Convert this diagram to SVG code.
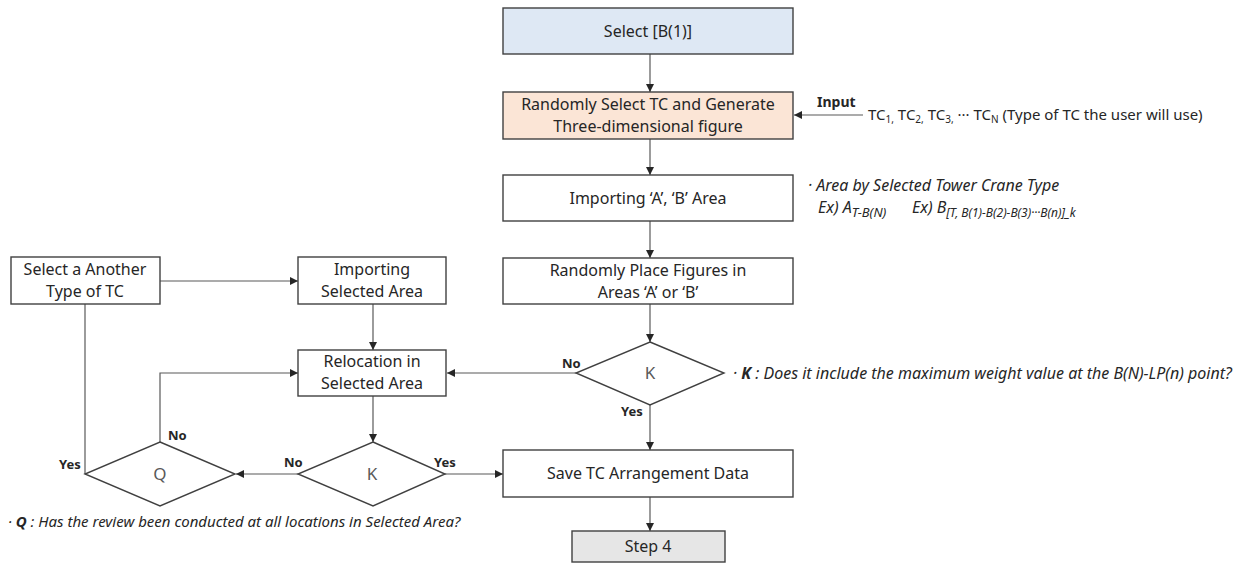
<svg xmlns="http://www.w3.org/2000/svg" width="1247" height="563" viewBox="0 0 1247 563">
<defs>
<marker id="ah" viewBox="0 0 10 10" refX="10" refY="5" markerWidth="8" markerHeight="8" markerUnits="userSpaceOnUse" orient="auto">
<path d="M0,0 L10,5 L0,10 z" fill="#262626"/>
</marker>
<style>
.box{stroke:#404040;stroke-width:1.4;fill:#fff}
.blue{fill:#dee8f4}
.orange{fill:#fbe5d6}
.gray{fill:#e6e6e6}
.t{font-family:"Noto Sans","Open Sans",sans-serif;font-size:16px;fill:#262626;text-anchor:middle}
.dk{font-family:"Noto Sans","Open Sans",sans-serif;font-size:17px;fill:#595959;text-anchor:middle}
.lab{font-family:"Noto Sans","Open Sans",sans-serif;font-size:13px;font-weight:bold;fill:#262626}
.note{font-family:"Noto Sans","Open Sans",sans-serif;font-size:16px;font-style:italic;fill:#262626}
.in{font-family:"Noto Sans","Open Sans",sans-serif;font-size:15px;fill:#262626}
.sub{font-size:10px}
.c{fill:none;stroke:#595959;stroke-width:1.2}
.ca{fill:none;stroke:#595959;stroke-width:1.2;marker-end:url(#ah)}
</style>
</defs>
<rect width="1247" height="563" fill="#fff"/>
<g id="connectors">
<line class="ca" x1="650" y1="54" x2="650" y2="92"/>
<line class="ca" x1="863" y1="115" x2="794" y2="115"/>
<line class="ca" x1="650" y1="139" x2="650" y2="175"/>
<line class="ca" x1="650" y1="221" x2="650" y2="258"/>
<line class="ca" x1="650" y1="304" x2="650" y2="342"/>
<line class="ca" x1="576" y1="373" x2="447" y2="373"/>
<line class="ca" x1="650" y1="405" x2="650" y2="450"/>
<line class="ca" x1="650" y1="497" x2="650" y2="531"/>
<line class="ca" x1="160" y1="281" x2="298" y2="281"/>
<line class="ca" x1="373" y1="304" x2="373" y2="350"/>
<line class="ca" x1="373" y1="396" x2="373" y2="442"/>
<line class="ca" x1="298" y1="474" x2="236" y2="474"/>
<line class="ca" x1="445" y1="474" x2="503" y2="474"/>
<polyline class="ca" points="160,442 160,373 298,373"/>
<polyline class="c" points="85,474 85,304"/>
</g>
<g id="n-select-b1">
<rect class="box blue" x="503" y="8" width="290" height="46"/>
<text class="t" x="648" y="37">Select [B(1)]</text>
</g>
<g id="n-random-tc">
<rect class="box orange" x="503" y="92" width="290" height="47"/>
<text class="t" x="648" y="110">Randomly Select TC and Generate</text>
<text class="t" x="648" y="132">Three-dimensional figure</text>
</g>
<g id="n-input">
<text class="lab" x="817" y="107" style="font-size:14px">Input</text>
<text class="in" x="868" y="120">TC<tspan class="sub" dy="3">1,</tspan><tspan dy="-3"> TC</tspan><tspan class="sub" dy="3">2,</tspan><tspan dy="-3"> TC</tspan><tspan class="sub" dy="3">3,</tspan><tspan dy="-3"> ··· TC</tspan><tspan class="sub" dy="3">N</tspan><tspan dy="-3"> (Type of TC the user will use)</tspan></text>
</g>
<g id="n-import-ab">
<rect class="box" x="503" y="175" width="290" height="46"/>
<text class="t" x="648" y="204">Importing ‘A’, ‘B’ Area</text>
</g>
<g id="n-area-note">
<text class="note" x="808" y="191">· Area by Selected Tower Crane Type</text>
<text class="note" x="818" y="213">Ex) A<tspan dy="4" style="font-size:13px">T-B(N)</tspan></text>
<text class="note" x="912" y="213">Ex) B<tspan dy="4" style="font-size:12px">[T, B(1)-B(2)-B(3)···B(n)]_k</tspan></text>
</g>
<g id="n-random-place">
<rect class="box" x="503" y="258" width="290" height="46"/>
<text class="t" x="648" y="276">Randomly Place Figures in</text>
<text class="t" x="648" y="298">Areas ‘A’ or ‘B’</text>
</g>
<g id="n-k1">
<polygon class="box" points="650,342 724,373 650,405 576,373"/>
<text class="dk" x="650" y="379">K</text>
<text class="lab" x="562" y="368">No</text>
<text class="lab" x="621" y="416">Yes</text>
</g>
<g id="n-k-note">
<text class="note" x="733" y="379">· <tspan font-weight="bold">K</tspan> : Does it include the maximum weight value at the B(N)-LP(n) point?</text>
</g>
<g id="n-select-another">
<rect class="box" x="11" y="257" width="149" height="47"/>
<text class="t" x="85" y="275">Select a Another</text>
<text class="t" x="85" y="297">Type of TC</text>
</g>
<g id="n-import-selected">
<rect class="box" x="298" y="257" width="148" height="47"/>
<text class="t" x="372" y="275">Importing</text>
<text class="t" x="372" y="297">Selected Area</text>
</g>
<g id="n-relocation">
<rect class="box" x="298" y="350" width="148" height="46"/>
<text class="t" x="372" y="367">Relocation in</text>
<text class="t" x="372" y="389">Selected Area</text>
</g>
<g id="n-k2">
<polygon class="box" points="373,442 445,474 373,506 298,474"/>
<text class="dk" x="372" y="480">K</text>
<text class="lab" x="284" y="467">No</text>
<text class="lab" x="434" y="467">Yes</text>
</g>
<g id="n-q">
<polygon class="box" points="160,442 235,474 160,506 85,474"/>
<text class="dk" x="160" y="480">Q</text>
<text class="lab" x="168" y="440">No</text>
<text class="lab" x="59" y="469">Yes</text>
</g>
<g id="n-q-note">
<text class="note" x="8" y="527" style="font-size:15px">· <tspan font-weight="bold">Q</tspan> : Has the review been conducted at all locations in Selected Area?</text>
</g>
<g id="n-save">
<rect class="box" x="503" y="450" width="290" height="47"/>
<text class="t" x="648" y="479">Save TC Arrangement Data</text>
</g>
<g id="n-step4">
<rect class="box gray" x="572" y="531" width="153" height="31"/>
<text class="t" x="648" y="552">Step 4</text>
</g>
</svg>
